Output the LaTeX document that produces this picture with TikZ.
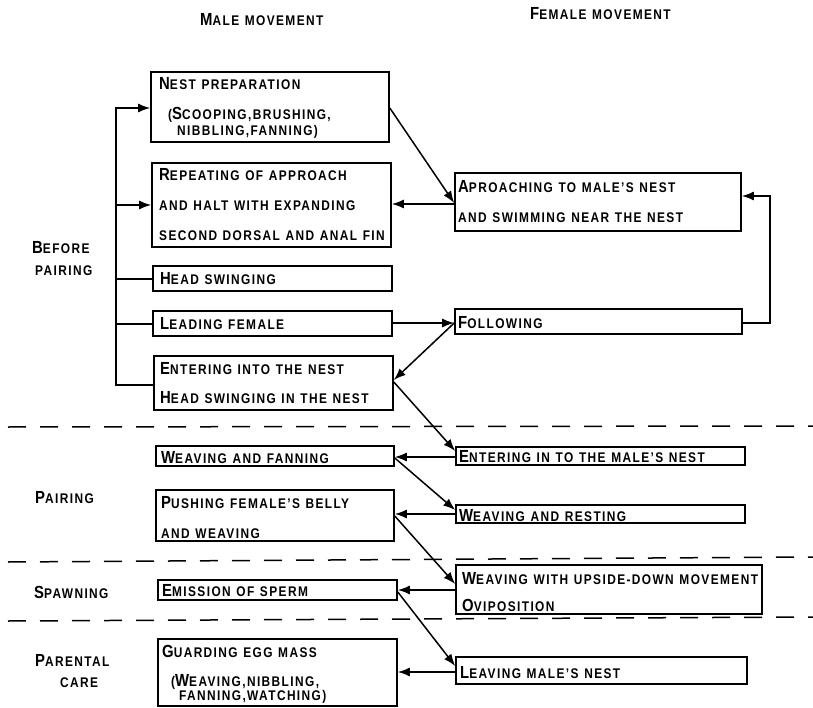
\documentclass[tikz,border=0pt]{standalone}
\usepackage{fontspec}
\newfontfamily\pf{Liberation Sans}[LetterSpace=10,FakeStretch=0.85,WordSpace=1.2]
\usetikzlibrary{arrows.meta,fit}
\newcommand\SC[2]{{\fontsize{17.5}{17.5}\selectfont #1}\MakeUppercase{#2}}
\newcommand\SM[1]{\MakeUppercase{#1}}
\begin{document}
\begin{tikzpicture}[x=1pt,y=-1pt,
  boxn/.style={draw, line width=1.6pt, inner sep=0pt, rectangle},
  txt/.style={anchor=base west, inner sep=0pt, font=\pf\bfseries\fontsize{14}{14}\selectfont},
  conn/.style={line width=1.5pt},
  arr/.style={conn, -{Latex[length=12pt,width=9pt]}},
  sepline/.style={line width=1.5pt, dash pattern=on 18pt off 14pt}]
\useasboundingbox (0,0) rectangle (813,708);
\fill[white] (0,0) rectangle (813,708);

% headers and phase labels
\node[txt] (hmale) at (200,26) {\SC{M}{ale movement}};
\node[txt] (hfem) at (530,20) {\SC{F}{emale movement}};
\node[txt] (lbefore) at (32,254) {\SC{B}{efore}};
\node[txt] (lpairing) at (35,276) {\SM{pairing}};
\node[txt] (lpair) at (35,503) {\SC{P}{airing}};
\node[txt] (lspawn) at (34,598) {\SC{S}{pawning}};
\node[txt] (lparent) at (35,666) {\SC{P}{arental}};
\node[txt] (lcare) at (60,687) {\SM{care}};

% male boxes
\node[boxn, fit={(151,72) (389,142)}] (n1) {};
\node[boxn, fit={(152,163) (391,247)}] (n2) {};
\node[boxn, fit={(153,266) (392,291)}] (n3) {};
\node[boxn, fit={(153,311) (392,336)}] (n4) {};
\node[boxn, fit={(154,356) (393,410)}] (n5) {};
\node[boxn, fit={(156,446) (394,466)}] (m6) {};
\node[boxn, fit={(156,490) (394,541)}] (m7) {};
\node[boxn, fit={(158,580) (397,600)}] (m8) {};
\node[boxn, fit={(158,639) (397,706)}] (m9) {};

% female boxes
\node[boxn, fit={(455,173) (741,231)}] (f1) {};
\node[boxn, fit={(455,309) (742,334)}] (f2) {};
\node[boxn, fit={(456,447) (745,465)}] (f3) {};
\node[boxn, fit={(456,505) (745,523)}] (f4) {};
\node[boxn, fit={(456,565) (762,614)}] (f5) {};
\node[boxn, fit={(456,657) (747,684)}] (f6) {};

% texts in male boxes
\node[txt] (t1a) at (159,90) {\SC{N}{est preparation}};
\node[txt] (t1b) at (168,120) {(\SC{S}{cooping,brushing,}};
\node[txt] (t1c) at (177,136) {\SM{nibbling,fanning})};
\node[txt] (t2a) at (159,181) {\SC{R}{epeating of approach}};
\node[txt] (t2b) at (159,211) {\SM{and halt with expanding}};
\node[txt] (t2c) at (159,241) {\SM{second dorsal and anal fin}};
\node[txt] (t3) at (160,285) {\SC{H}{ead swinging}};
\node[txt] (t4) at (160,329) {\SC{L}{eading female}};
\node[txt] (t5a) at (160,374) {\SC{E}{ntering into the nest}};
\node[txt] (t5b) at (160,403) {\SC{H}{ead swinging in the nest}};
\node[txt] (t6) at (161,463) {\SC{W}{eaving and fanning}};
\node[txt] (t7a) at (161,508) {\SC{P}{ushing female’s belly}};
\node[txt] (t7b) at (161,538) {\SM{and weaving}};
\node[txt] (t8) at (162,596) {\SC{E}{mission of sperm}};
\node[txt] (t9a) at (162,657) {\SC{G}{uarding egg mass}};
\node[txt] (t9b) at (171,686) {(\SC{W}{eaving,nibbling,}};
\node[txt] (t9c) at (179,700) {\SM{fanning,watching})};

% texts in female boxes
\node[txt] (s1a) at (458,193) {\SC{A}{proaching to male’s nest}};
\node[txt] (s1b) at (458,223) {\SM{and swimming near the nest}};
\node[txt] (s2) at (458,328) {\SC{F}{ollowing}};
\node[txt] (s3) at (459,462) {\SC{E}{ntering in to the male’s nest}};
\node[txt] (s4) at (459,521) {\SC{W}{eaving and resting}};
\node[txt] (s5a) at (462,584) {\SC{W}{eaving with upside-down movement}};
\node[txt] (s5b) at (462,611) {\SC{O}{viposition}};
\node[txt] (s6) at (460,678) {\SC{L}{eaving male’s nest}};

% left bracket
\coordinate (btop) at (116,108);
\coordinate (bbot) at (116,385);
\draw[arr] (n5.west |- bbot) -- (bbot) -- (btop) -- (n1.west |- btop);
\draw[arr] (116,205) -- (n2.west |- 0,205);
\draw[conn] (116,279) -- (n3.west |- 0,279);
\draw[conn] (116,324) -- (n4.west |- 0,324);

% feedback loop
\coordinate (fb) at (770,196);
\draw[arr] (f2.east |- 0,323) -| (fb) -- (f1.east |- fb);

% cross connectors
\draw[arr] (n1.east |- 0,108) -- (f1.west |- 0,203);
\draw[arr] (f1.west |- 0,204) -- (n2.east |- 0,204);
\draw[arr] (n4.east |- 0,323) -- (f2.west |- 0,323);
\draw[arr] (f2.west |- 0,323) -- (n5.east |- 0,380);
\draw[arr] (n5.east |- 0,382) -- (f3.west |- 0,451);
\draw[arr] (f3.west |- 0,457) -- (m6.east |- 0,457);
\draw[arr] (m6.east |- 0,458) -- (f4.west |- 0,510);
\draw[arr] (f4.west |- 0,514) -- (m7.east |- 0,514);
\draw[arr] (m7.east |- 0,516) -- (f5.west |- 0,584);
\draw[arr] (f5.west |- 0,590) -- (m8.east |- 0,590);
\draw[arr] (m8.east |- 0,592) -- (f6.west |- 0,666);
\draw[arr] (f6.west |- 0,672) -- (m9.east |- 0,672);

% phase separators
\draw[sepline] (8,427) -- (813,426);
\draw[sepline] (8,562) -- (813,557);
\draw[sepline] (8,621) -- (813,617);
\end{tikzpicture}
\end{document}
